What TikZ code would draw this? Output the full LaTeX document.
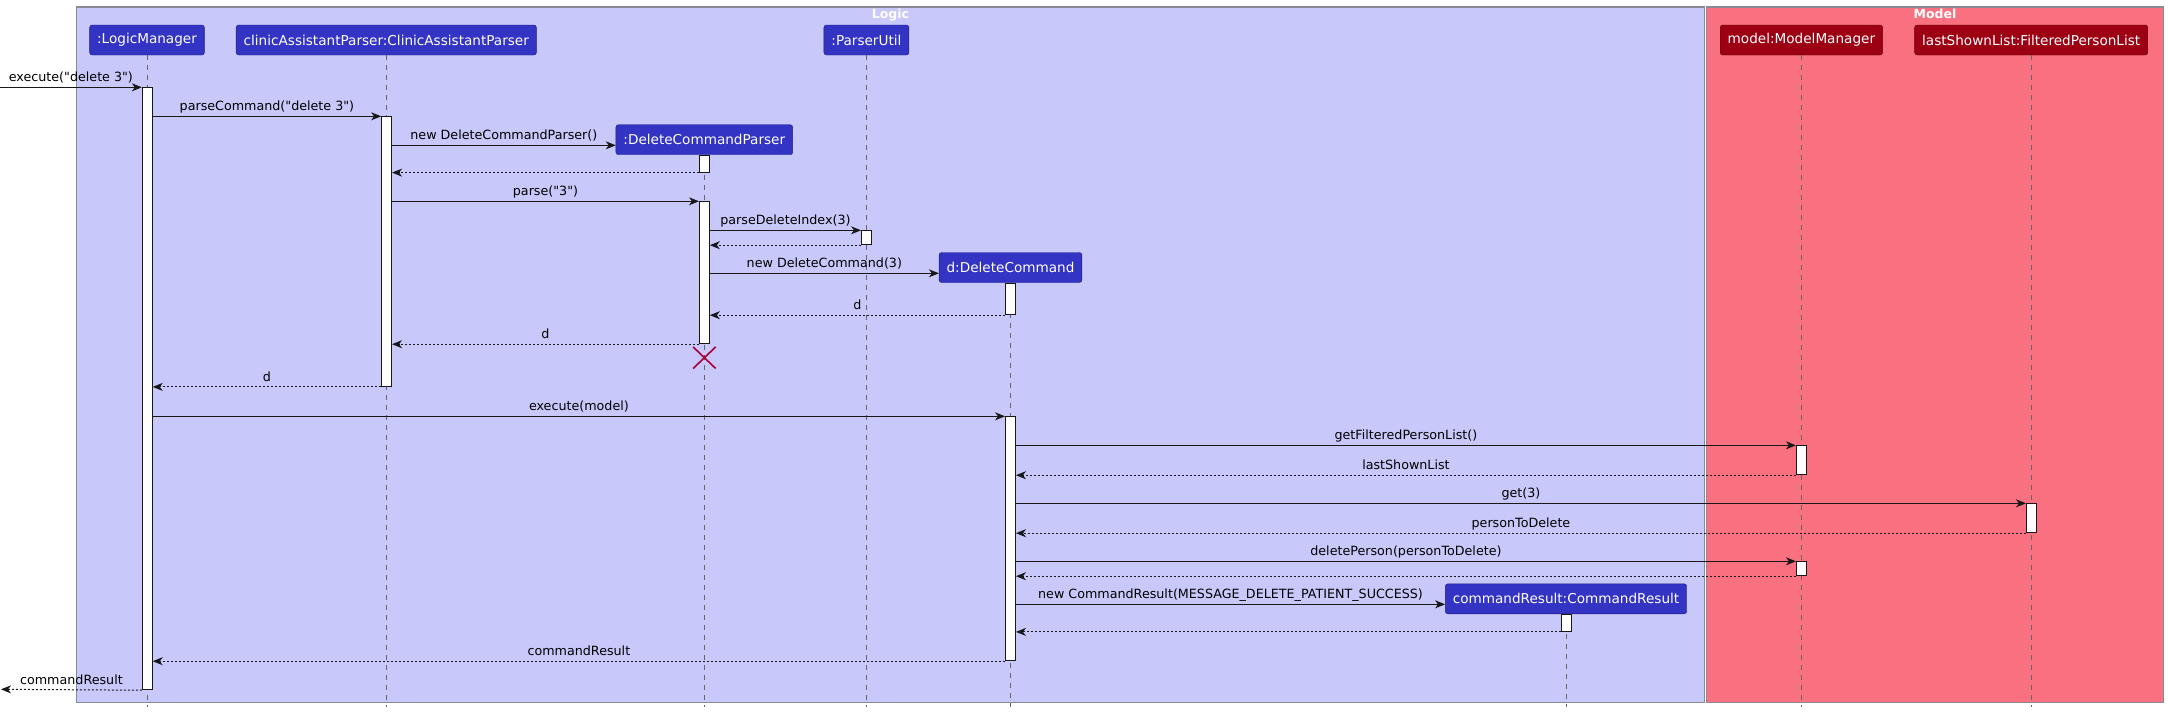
\documentclass[tikz,border=0pt]{standalone}
\usepackage{fontspec}
\setmainfont{DejaVu Sans}
\usetikzlibrary{arrows.meta,shapes.misc}

\definecolor{logicT}{HTML}{C8C8FA}
\definecolor{logicC}{HTML}{3333C4}
\definecolor{modelT}{HTML}{F97181}
\definecolor{modelC}{HTML}{9D0012}
\definecolor{lineC}{HTML}{181818}
\definecolor{killC}{HTML}{A80036}
\definecolor{frameC}{HTML}{8A8A96}

\newcommand{\qq}{\textquotedbl}

\begin{document}
\begin{tikzpicture}[x=1pt, y=-1pt,
    pkg/.style={rectangle, draw=frameC, line width=1.2pt, fill=#1, inner sep=0, anchor=north west},
    pkgtitle/.style={text=white, inner sep=0, anchor=base, font=\fontsize{12.5}{15}\selectfont\bfseries},
    obj/.style={rectangle, rounded corners=2.5pt, draw=#1!60!black, fill=#1, text=white, minimum height=30, inner xsep=7.5, inner ysep=0, font=\fontsize{13.6}{16}\selectfont},
    act/.style={rectangle, draw=lineC, fill=white, line width=0.9pt, minimum width=10, inner sep=0, anchor=north},
    life/.style={draw=black!60, dash pattern=on 5pt off 5pt, line width=0.8pt},
    msg/.style={-{Stealth[length=10pt, width=8pt, inset=3pt]}, draw=lineC, line width=1pt},
    ret/.style={msg, dash pattern=on 2pt off 2pt},
    lbl/.style={midway, anchor=base, yshift=5.5pt, inner sep=0, text=black, font=\fontsize{12.7}{15}\selectfont}]

    \useasboundingbox (0,0) rectangle (2168,713);

    % packages
    \node[pkg=logicT, minimum width=1628, minimum height=695.2] (logic) at (75.8,6.3) {};
    \node[pkg=modelT, minimum width=457.3, minimum height=695.2] (model) at (1705.7,6.3) {};
    \node[pkgtitle] (logicT) at ([yshift=-11.7pt]logic.north) {Logic};
    \node[pkgtitle] (modelT) at ([yshift=-11.7pt]model.north) {Model};

    % participants
    \node[obj=logicC] (lm) at (147,40) {:LogicManager};
    \node[obj=logicC] (cap) at (386.3,40) {clinicAssistantParser:ClinicAssistantParser};
    \node[obj=logicC] (pu) at (866.4,40) {:ParserUtil};
    \node[obj=logicC] (dcp) at (704.3,139.7) {:DeleteCommandParser};
    \node[obj=logicC] (dc) at (1010.5,267.5) {d:DeleteCommand};
    \node[obj=logicC] (cr) at (1566,598.8) {commandResult:CommandResult};
    \node[obj=modelC] (mm) at (1801.4,40) {model:ModelManager};
    \node[obj=modelC] (fpl) at (2031.2,40) {lastShownList:FilteredPersonList};

    % lifelines
    \foreach \p in {lm,cap,pu,dcp,dc,cr,mm,fpl}
        \draw[life] (\p.south) -- (\p.south |- 0,707);

    % activations
    \node[act, minimum height=602] (lmA) at (147.3,87.3) {};
    \node[act, minimum height=269.7] (capA) at (386.6,116.3) {};
    \node[act, minimum height=17] (dcpA1) at (704.4,154.7) {};
    \node[act, minimum height=142] (dcpA2) at (704.4,201.3) {};
    \node[act, minimum height=14] (puA) at (866.5,230.3) {};
    \node[act, minimum height=31.6] (dcA1) at (1010.5,282.7) {};
    \node[act, minimum height=244] (dcA2) at (1010.5,416.3) {};
    \node[act, minimum height=29] (mmA1) at (1801.4,445.3) {};
    \node[act, minimum height=29] (fplA) at (2031.4,503.3) {};
    \node[act, minimum height=14] (mmA2) at (1801.4,561.3) {};
    \node[act, minimum height=16.7] (crA) at (1566.5,614.3) {};

    \node[cross out, draw=killC, line width=1.6pt, minimum width=21, minimum height=20, inner sep=0] (dcpX) at (704.4,357.7) {};

    \coordinate (entry) at (0,87.3);
    \coordinate (exit) at (1,689.3);

    % LogicManager-parser conversation
    \draw[msg] (entry) -- (lmA.north west) node[lbl] {execute(\qq delete 3\qq)};
    \draw[msg] (lmA.east |- 0,116.3) -- (capA.north west) node[lbl] {parseCommand(\qq delete 3\qq)};
    \draw[msg] (capA.east |- 0,145.3) -- (dcp.west |- 0,145.3) node[lbl] {new DeleteCommandParser()};
    \draw[ret] (dcpA1.south west) -- (capA.east |- dcpA1.south);
    \draw[msg] (capA.east |- dcpA2.north) -- (dcpA2.north west) node[lbl] {parse(\qq 3\qq)};
    \draw[msg] (dcpA2.east |- puA.north) -- (puA.north west) node[lbl] {parseDeleteIndex(3)};
    \draw[ret] (puA.south west) -- (dcpA2.east |- puA.south);
    \draw[msg] (dcpA2.east |- 0,273.3) -- (dc.west |- 0,273.3) node[lbl] {new DeleteCommand(3)};
    \draw[ret] (dcA1.south west) -- (dcpA2.east |- dcA1.south) node[lbl] {d};
    \draw[ret] (dcpA2.south west) -- (capA.east |- dcpA2.south) node[lbl] {d};
    \draw[ret] (capA.south west) -- (lmA.east |- capA.south) node[lbl] {d};

    % DeleteCommand-Model conversation
    \draw[msg] (lmA.east |- dcA2.north) -- (dcA2.north west) node[lbl] {execute(model)};
    \draw[msg] (dcA2.east |- mmA1.north) -- (mmA1.north west) node[lbl] {getFilteredPersonList()};
    \draw[ret] (mmA1.south west) -- (dcA2.east |- mmA1.south) node[lbl] {lastShownList};
    \draw[msg] (dcA2.east |- fplA.north) -- (fplA.north west) node[lbl] {get(3)};
    \draw[ret] (fplA.south west) -- (dcA2.east |- fplA.south) node[lbl] {personToDelete};
    \draw[msg] (dcA2.east |- mmA2.north) -- (mmA2.north west) node[lbl] {deletePerson(personToDelete)};
    \draw[ret] (mmA2.south west) -- (dcA2.east |- mmA2.south);
    \draw[msg] (dcA2.east |- 0,604.3) -- (cr.west |- 0,604.3) node[lbl] {new CommandResult(MESSAGE\_DELETE\_PATIENT\_SUCCESS)};
    \draw[ret] (crA.south west) -- (dcA2.east |- crA.south);
    \draw[ret] (dcA2.south west) -- (lmA.east |- dcA2.south) node[lbl] {commandResult};
    \draw[ret] (lmA.south west) -- (exit) node[lbl] {commandResult};

\end{tikzpicture}
\end{document}
